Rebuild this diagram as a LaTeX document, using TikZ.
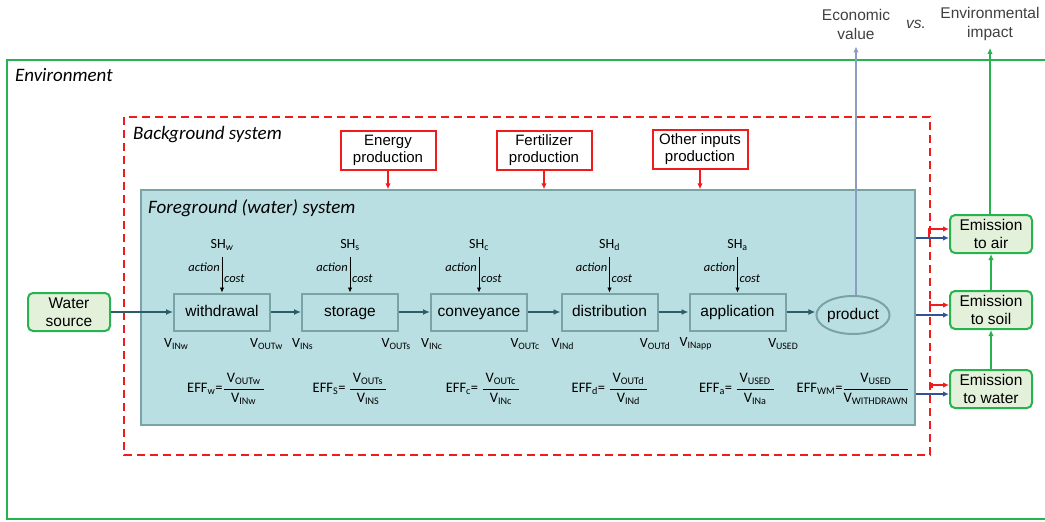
\documentclass[tikz,border=0pt]{standalone}
\usepackage{fontspec}
\setmainfont{Liberation Sans}
\newfontfamily\carl{Carlito}
\usetikzlibrary{arrows.meta,shapes.geometric,calc}
\definecolor{fgfill}{RGB}{186,223,226}
\definecolor{fgborder}{RGB}{122,163,166}
\definecolor{flowc}{RGB}{45,92,102}
\definecolor{envgreen}{RGB}{40,178,80}
\definecolor{emfill}{RGB}{227,241,219}
\definecolor{bluec}{RGB}{47,84,150}
\definecolor{econc}{RGB}{140,158,190}
\definecolor{redc}{RGB}{240,28,28}
\newcommand{\effrac}[2]{$\displaystyle\frac{\mbox{\hspace{3pt}#1\hspace{3pt}}}{\mbox{#2}}$}
\newcommand{\procstage}[6]{%
  \node[procbox] (#1) at (#2,312) {#3};
  \node[shlabel] (#1sh) at (#2,245) {SH\textsubscript{#4}};
  \draw[sharrow] ([yshift=-5pt]#1sh.south) -- (#1.north);
  \node[actlabel, anchor=east, xshift=-2pt] (#1act) at (#1.north |- 0,267) {action};
  \node[actlabel, anchor=west, xshift=2pt] (#1cost) at (#1.north |- 0,279) {cost};
  \node[vlabel, anchor=west, xshift=-9pt] (#1vin) at (#1.south west |- 0,344) {V\textsubscript{#5}};
  \node[vlabel, anchor=east, xshift=12pt] (#1vout) at (#1.south east |- 0,344) {V\textsubscript{#6}};
}
\begin{document}
\begin{tikzpicture}[x=1pt,y=-1pt,
  bigital/.style={font=\carl\itshape\fontsize{19}{20}\selectfont, inner sep=0pt, anchor=west},
  procbox/.style={draw=fgborder, line width=2pt, minimum width=96pt, minimum height=37pt, inner sep=0pt, text height=11pt, text depth=3pt, font=\fontsize{15.5}{17}\selectfont},
  shlabel/.style={font=\carl\fontsize{14}{15}\selectfont, inner sep=1pt},
  actlabel/.style={font=\carl\itshape\fontsize{12.5}{13}\selectfont, inner sep=0pt},
  vlabel/.style={font=\carl\fontsize{14}{15}\selectfont, inner sep=0pt},
  eff/.style={font=\carl\fontsize{14.5}{16}\selectfont, inner sep=0pt},
  redbox/.style={draw=redc, line width=2pt, minimum width=95pt, minimum height=39pt, inner sep=0pt, align=center, font=\fontsize{15}{17}\selectfont},
  embox/.style={draw=envgreen, fill=emfill, line width=2pt, rounded corners=5pt, minimum width=82pt, minimum height=38pt, inner sep=0pt, align=center, font=\fontsize{15.5}{18}\selectfont},
  flow/.style={draw=flowc, line width=2.2pt, -{Latex[length=7pt,width=6pt]}},
  sharrow/.style={draw=black, line width=0.8pt, -{Latex[length=5pt,width=4.5pt]}},
  redarrow/.style={draw=redc, line width=1.8pt, -{Latex[length=6pt,width=5.5pt]}},
  bluearrow/.style={draw=bluec, line width=1.8pt, -{Latex[length=6pt,width=5.5pt]}},
  greenarrow/.style={draw=envgreen, line width=2pt, -{Latex[length=6pt,width=5.5pt]}},
  toplabel/.style={align=center, font=\fontsize{15.5}{19}\selectfont, text=black!75, inner sep=0pt}
]
\useasboundingbox (0,0) rectangle (1045,522);
% environment
\draw[envgreen, line width=2pt] (1050,60) -- (7,60) -- (7,519) -- (1050,519);
\node[bigital] (envlab) at (15,75) {Environment};
% background system
\draw[redc, line width=2pt, dash pattern=on 8pt off 5pt] (124,117) rectangle (930,455);
\node[bigital] (bglab) at (133,135) {Background system};
% foreground system
\node[draw=fgborder, fill=fgfill, line width=1.5pt, minimum width=774pt, minimum height=235pt, inner sep=0pt] (fg) at (528,307.5) {};
\node[bigital] (fglab) at (148,208) {Foreground (water) system};
% background inputs
\node[redbox] (energy) at (388,150) {Energy\\production};
\node[redbox] (fert) at (544,150) {Fertilizer\\production};
\node[redbox] (other) at (700,149) {Other inputs\\production};
\foreach \b in {energy,fert,other}
  \draw[redarrow] (\b.south) -- (\b.south |- fg.north);
% stages
\procstage{withdrawal}{222}{withdrawal}{\itshape w}{INw}{OUTw}
\procstage{storage}{350}{storage}{s}{INs}{OUTs}
\procstage{conveyance}{479}{conveyance}{c}{INc}{OUTc}
\procstage{distribution}{609.5}{distribution}{d}{INd}{OUTd}
\procstage{application}{737.5}{application}{a}{INapp}{USED}
\node[ellipse, draw=fgborder, line width=2pt, minimum width=63pt, minimum height=38pt, inner sep=0pt, text height=11pt, text depth=3pt, font=\fontsize{15.5}{17}\selectfont] (product) at (853,315) {product};
\draw[flow] (withdrawal.east) -- (storage.west);
\draw[flow] (storage.east) -- (conveyance.west);
\draw[flow] (conveyance.east) -- (distribution.west);
\draw[flow] (distribution.east) -- (application.west);
\draw[flow] (application.east) -- (application.east -| product.west);
% efficiencies
\node[eff] (effw) at (226,389) {EFF\textsubscript{w}=\effrac{V\textsubscript{OUTw}}{V\textsubscript{INw}}};
\node[eff] (effs) at (350,389) {EFF\textsubscript{S}= \effrac{V\textsubscript{OUTs}}{V\textsubscript{INS}}};
\node[eff] (effc) at (483,389) {EFF\textsubscript{c}= \effrac{V\textsubscript{OUTc}}{V\textsubscript{INc}}};
\node[eff] (effd) at (610,389) {EFF\textsubscript{d}= \effrac{V\textsubscript{OUTd}}{V\textsubscript{INd}}};
\node[eff] (effa) at (737,389) {EFF\textsubscript{a}= \effrac{V\textsubscript{USED}}{V\textsubscript{INa}}};
\node[eff] (effwm) at (853,389) {EFF\textsubscript{WM}=\effrac{V\textsubscript{USED}}{V\textsubscript{WITHDRAWN}}};
% water source
\node[embox] (water) at (69,312) {Water\\source};
\draw[flow] (water.east) -- (withdrawal.west);
% emissions
\node[embox] (air) at (991,234) {Emission\\to air};
\node[embox] (soil) at (991,310) {Emission\\to soil};
\node[embox] (wat) at (991,389) {Emission\\to water};
\foreach \e/\yb in {air/238,soil/315,wat/394}{
  \coordinate (b\e) at (fg.east |- 0,\yb);
  \draw[bluearrow] (b\e) -- (b\e -| \e.west);
}
\coordinate (rair) at (929,237);
\draw[redarrow] (rair) |- ([yshift=5pt]air.west);
\coordinate (rsoil) at (929,305);
\draw[draw=redc, line width=1.8pt, {Bar[width=9pt]}-{Latex[length=6pt,width=5.5pt]}] (rsoil) -- (rsoil -| soil.west);
\coordinate (rwat) at (931,385);
\draw[draw=redc, line width=1.8pt, {Bar[width=5pt]}-{Latex[length=6pt,width=5.5pt]}] (rwat) -- (rwat -| wat.west);
\draw[greenarrow] (wat.north) -- (soil.south);
\draw[greenarrow] (soil.north) -- (air.south);
% top labels
\node[toplabel] (econ) at (856,24) {Economic\\value};
\node[toplabel] (envimp) at (990,24) {Environmental\\impact};
\node[font=\itshape\fontsize{15.5}{17}\selectfont, text=black!75, inner sep=0pt] (vs) at (916,24) {vs.};
\draw[draw=econc, line width=1.8pt, -{Latex[length=6pt,width=5.5pt]}] (product.north -| econ.south) -- ([yshift=-7pt]econ.south);
\draw[greenarrow] (air.north -| envimp.south) -- ([yshift=-7pt]envimp.south);
\end{tikzpicture}
\end{document}
